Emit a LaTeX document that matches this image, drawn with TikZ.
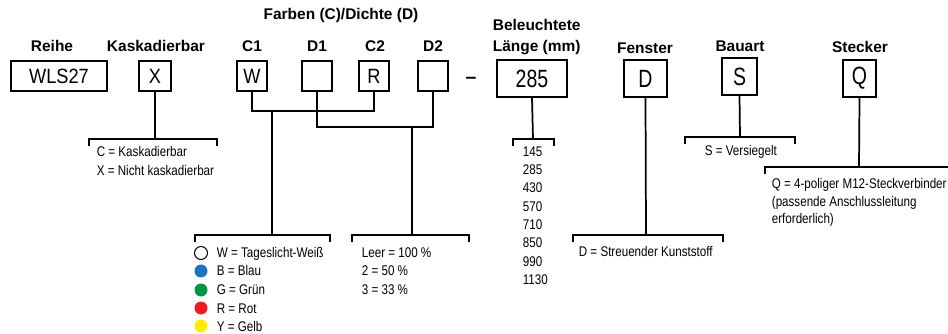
\documentclass[tikz,border=0pt]{standalone}
\usepackage{fontspec}
\setmainfont{Liberation Sans}
\newfontfamily\smallnarrow[FakeStretch=0.83]{Liberation Sans}
\newfontfamily\boxnarrow[FakeStretch=0.88]{Liberation Sans}
\newfontfamily\tallnarrow[FakeStretch=0.78]{Liberation Sans}
\definecolor{cblue}{RGB}{30,115,190}
\definecolor{cgreen}{RGB}{0,150,70}
\definecolor{cred}{RGB}{237,28,36}
\definecolor{cyellow}{RGB}{255,237,0}
\begin{document}
\begin{tikzpicture}[x=0.75pt,y=-0.75pt,
  line width=1.3pt, line cap=rect,
  codebox/.style={draw, line width=1.1pt, inner sep=0pt, minimum height=22.5pt,
    font=\boxnarrow\fontsize{15.5}{17}\selectfont},
  tallbox/.style={draw, line width=1.1pt, inner sep=0pt, minimum height=27.75pt,
    font=\tallnarrow\fontsize{18.75}{20}\selectfont},
  head/.style={font=\bfseries\fontsize{11.6}{13}\selectfont, inner sep=0pt, anchor=base},
  small/.style={font=\smallnarrow\fontsize{10.5}{12}\selectfont, inner sep=0pt, anchor=base west},
  dot/.style={circle, inner sep=0pt, minimum size=9.75pt}
]
\useasboundingbox (0,0) rectangle (948,334);

% headings
\node[head] (hReihe) at (52,52) {Reihe};
\node[head] (hKask) at (156,52) {Kaskadierbar};
\node[head] (hFarben) at (341,20) {Farben (C)/Dichte (D)};
\node[head] (hC1) at (252,52) {C1};
\node[head] (hD1) at (317,52) {D1};
\node[head] (hC2) at (375,52) {C2};
\node[head] (hD2) at (433,52) {D2};
\node[head, anchor=base west] (hBel) at (492,31) {Beleuchtete};
\node[head, anchor=base west] (hLen) at (492,52) {Länge (mm)};
\node[head] (hFen) at (645,54) {Fenster};
\node[head] (hBau) at (740,52) {Bauart};
\node[head] (hSte) at (860,53) {Stecker};

% code boxes
\node[codebox, minimum width=72pt] (bWLS) at (59,76) {WLS27};
\node[codebox, minimum width=24pt] (bX) at (155,76) {X};
\node[codebox, minimum width=22.5pt] (bW) at (252,76) {W};
\node[codebox, minimum width=22.5pt] (bD1) at (317,76) {};
\node[codebox, minimum width=22.5pt] (bR) at (374,76) {R};
\node[codebox, minimum width=22.5pt] (bD2) at (433,76) {};
\node[font=\bfseries\fontsize{14.6}{16}\selectfont, inner sep=0pt] (dash) at (471,80) {–};
\node[tallbox, minimum width=52.5pt] (bLen) at (532,78.5) {285};
\node[tallbox, minimum width=32.25pt] (bD) at (645.5,78.5) {D};
\node[tallbox, minimum width=26.25pt] (bS) at (739.5,76.5) {S};
\node[tallbox, minimum width=24.75pt] (bQ) at (859.5,78.5) {Q};

% bracket coordinates
\coordinate (kX) at (155,139);
\coordinate (kC) at (272,111);
\coordinate (kCb) at (272,235);
\coordinate (kD) at (412,127);
\coordinate (kDb) at (412,235);
\coordinate (kLen) at (533,139);
\coordinate (kFen) at (646,235);
\coordinate (kS) at (740,137);
\coordinate (kQ) at (859,167);

% connectors
\draw (bX.south) -- (kX);
\draw (89,145) -- (89,139) -- (217,139) -- (217,145);

\draw (bW.south) |- (kC) -| (bR.south);
\draw (kC) -- (kCb);
\draw (195,241) -- (195,235) -- (330,235) -- (330,241);

\draw (bD1.south) |- (kD) -| (bD2.south);
\draw (kD) -- (kDb);
\draw (352,241) -- (352,235) -- (469,235) -- (469,241);

\draw (bLen.south) -- (kLen);
\draw (513,145) -- (513,139) -- (554,139) -- (554,145);

\draw (bD.south) -- (kFen);
\draw (573,241) -- (573,235) -- (723,235) -- (723,241);

\draw (bS.south) -- (kS);
\draw (685,143) -- (685,137) -- (795,137) -- (795,143);

\draw (bQ.south) -- (kQ);
\draw (765,173) -- (765,167) -- (948,167);

% texts
\node[small] (tC) at (96,157) {C = Kaskadierbar};
\node[small] (tX) at (96,176) {X = Nicht kaskadierbar};

\node[dot, draw, line width=0.8pt, fill=white] (cW) at (201,253) {};
\node[dot, fill=cblue] (cB) at (201,271) {};
\node[dot, fill=cgreen] (cG) at (201,290) {};
\node[dot, fill=cred] (cR) at (201,308) {};
\node[dot, fill=cyellow] (cY) at (201,326) {};
\node[small] (tW) at (216,258) {W = Tageslicht-Weiß};
\node[small] (tB) at (216,276) {B = Blau};
\node[small] (tG) at (216,295) {G = Grün};
\node[small] (tR) at (216,313) {R = Rot};
\node[small] (tY) at (216,331) {Y = Gelb};

\node[small] (tL1) at (361,258) {Leer = 100 \%};
\node[small] (tL2) at (361,276) {2 = 50 \%};
\node[small] (tL3) at (361,295) {3 = 33 \%};

\node[small] (n1) at (522,157) {145};
\node[small] (n2) at (522,175) {285};
\node[small] (n3) at (522,193) {430};
\node[small] (n4) at (522,212) {570};
\node[small] (n5) at (522,230) {710};
\node[small] (n6) at (522,248) {850};
\node[small] (n7) at (522,267) {990};
\node[small] (n8) at (522,285) {1130};

\node[small] (tD) at (578,257) {D = Streuender Kunststoff};
\node[small] (tS) at (704,156) {S = Versiegelt};
\node[small] (tQ1) at (771,189) {Q = 4-poliger M12-Steckverbinder};
\node[small] (tQ2) at (771,207) {(passende Anschlussleitung};
\node[small] (tQ3) at (771,224) {erforderlich)};
\end{tikzpicture}
\end{document}
